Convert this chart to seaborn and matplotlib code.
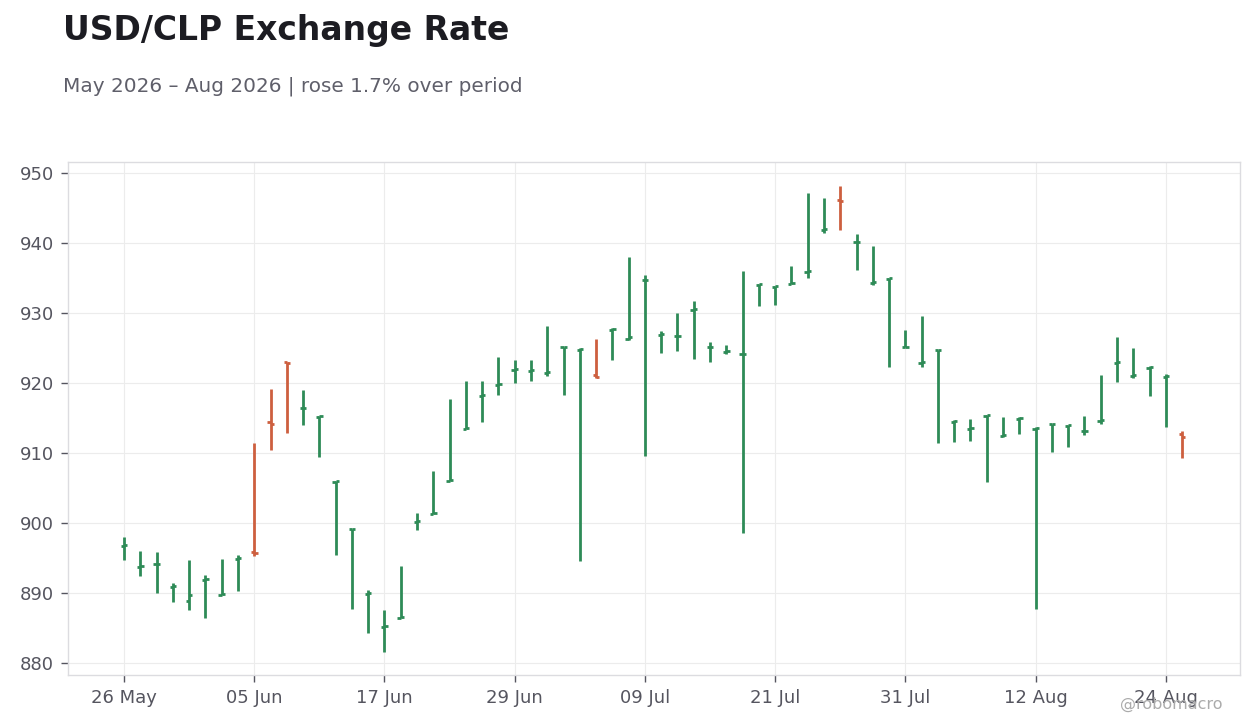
import pandas as pd
import seaborn as sns
import matplotlib.pyplot as plt

# OHLC values, one per business day from 26 May 2026
opens = [896.7, 893.8, 894.1, 890.9, 888.9, 891.9, 889.8, 894.9, 895.9, 914.4,
         923.0, 916.4, 915.2, 905.9, 899.1, 889.9, 885.2, 886.5, 900.2, 901.3,
         906.0, 913.5, 918.2, 919.8, 921.9, 921.8, 921.5, 925.1, 924.8, 921.1,
         927.6, 926.3, 934.7, 926.9, 926.7, 930.5, 925.1, 924.5, 924.1, 934.0,
         933.8, 934.2, 935.9, 941.9, 946.2, 940.1, 934.3, 934.9, 925.1, 922.9,
         924.7, 914.5, 913.5, 915.3, 912.5, 914.9, 913.5, 914.1, 913.9, 913.1,
         914.6, 922.9, 921.0, 922.2, 920.9, 912.8]
highs = [898.0, 896.0, 895.9, 891.5, 894.7, 892.6, 894.9, 895.5, 911.4, 919.1,
         923.0, 919.0, 915.3, 906.0, 899.2, 890.5, 887.6, 893.9, 901.4, 907.4,
         917.7, 920.3, 920.3, 923.7, 923.3, 923.3, 928.1, 925.2, 925.0, 926.3,
         927.9, 938.0, 935.4, 927.4, 930.0, 931.7, 925.9, 925.4, 936.0, 934.1,
         933.9, 936.7, 947.1, 946.4, 948.1, 941.3, 939.6, 935.0, 927.6, 929.6,
         924.8, 914.8, 914.9, 915.5, 915.1, 915.1, 913.7, 914.2, 914.0, 915.3,
         921.1, 926.6, 925.0, 922.4, 921.3, 913.1]
lows = [894.7, 892.4, 890.0, 888.8, 887.6, 886.5, 889.8, 890.3, 895.3, 910.5,
        912.9, 914.0, 909.5, 895.4, 887.8, 884.3, 881.6, 886.5, 899.0, 901.3,
        906.0, 913.5, 914.5, 918.3, 920.0, 920.3, 921.0, 918.3, 894.6, 920.7,
        923.3, 926.1, 909.6, 924.3, 924.6, 923.5, 923.0, 924.2, 898.6, 931.0,
        931.1, 934.2, 935.0, 941.5, 941.9, 936.2, 934.0, 922.3, 925.1, 922.3,
        911.5, 911.6, 911.8, 905.9, 912.3, 912.8, 887.7, 910.2, 910.9, 912.6,
        914.2, 920.2, 920.8, 918.2, 913.8, 909.3]
closes = [896.9, 893.9, 894.2, 891.0, 889.7, 892.0, 889.9, 895.0, 895.7, 914.2,
          922.9, 916.5, 915.3, 906.0, 899.2, 890.0, 885.3, 886.6, 900.3, 901.4,
          906.1, 913.6, 918.3, 919.9, 922.0, 921.9, 921.6, 925.2, 924.9, 920.9,
          927.7, 926.6, 934.8, 927.0, 926.8, 930.6, 925.2, 924.6, 924.2, 934.1,
          933.9, 934.3, 936.0, 942.0, 946.0, 940.2, 934.4, 935.0, 925.2, 923.0,
          924.8, 914.6, 913.6, 915.4, 912.6, 915.0, 913.6, 914.2, 914.0, 913.2,
          914.7, 923.0, 921.1, 922.3, 921.0, 912.3]

dates = pd.bdate_range("2026-05-26", periods=len(closes))

df = pd.DataFrame({"date": dates, "open": opens, "high": highs,
                   "low": lows, "close": closes})
df["i"] = range(len(df))
df["up"] = df["close"] >= df["open"]

GREEN = "#2e8b57"
RED = "#cd5f3f"

sns.set_theme(style="whitegrid")
plt.rcParams["font.family"] = ["DejaVu Sans"]

fig = plt.figure(figsize=(12.6, 7.28), dpi=100)
ax = fig.add_axes([0.054, 0.0728, 0.930, 0.7047])

colors = df["up"].map({True: GREEN, False: RED})
tw = 0.2
lw = 2.0
ax.vlines(df["i"], df["low"], df["high"], colors=colors, linewidth=lw)
ax.hlines(df["open"], df["i"] - tw, df["i"], colors=colors, linewidth=lw)
ax.hlines(df["close"], df["i"], df["i"] + tw, colors=colors, linewidth=lw)

ax.set_xlim(-3.44, 68.55)
ax.set_ylim(878.3, 951.6)
ax.set_yticks(range(880, 951, 10))

tick_idx = list(range(0, len(df), 8))
ax.set_xticks(tick_idx)
ax.set_xticklabels([df["date"][k].strftime("%d %b") for k in tick_idx])

ax.set_facecolor("white")
ax.grid(True, color="#ececec", linewidth=0.8)
for s in ax.spines.values():
    s.set_visible(True)
    s.set_color("#dcdce0")
    s.set_linewidth(1.0)
ax.tick_params(axis="both", which="major", length=5, width=1, color="#55555f",
               labelsize=13, labelcolor="#55555f", pad=5, bottom=True, left=True)
ax.set_xlabel("")
ax.set_ylabel("")

fig.text(0.050, 0.958, "USD/CLP Exchange Rate", fontsize=23.8, fontweight="bold",
         color="#1c1c22", va="center", ha="left")
fig.text(0.050, 0.882, "May 2026 \u2013 Aug 2026 | rose 1.7% over period",
         fontsize=14.4, color="#5f5f6a", va="center", ha="left")
fig.text(0.970, 0.032, "@robomacro", fontsize=11.5, color="#ababab",
         va="center", ha="right")

fig.savefig("out.png", dpi=100, facecolor="white")
